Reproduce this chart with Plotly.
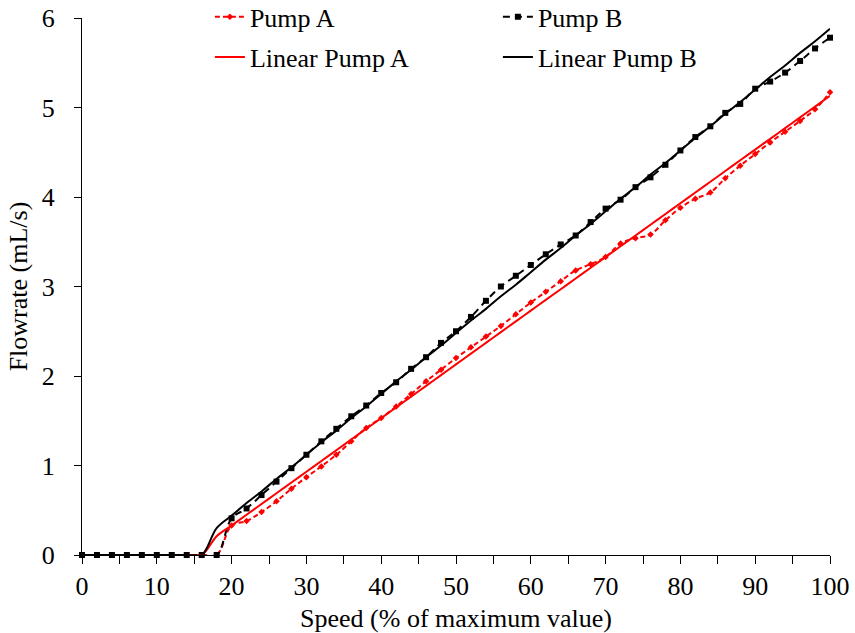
import plotly.graph_objects as go

# Speed (% of maximum value)
speed = [0, 2, 4, 6, 8, 10, 12, 14, 16, 18, 20, 22, 24, 26, 28, 30, 32, 34, 36, 38,
         40, 42, 44, 46, 48, 50, 52, 54, 56, 58, 60, 62, 64, 66, 68, 70, 72, 74, 76, 78,
         80, 82, 84, 86, 88, 90, 92, 94, 96, 98, 100]

pump_a = [0, 0, 0, 0, 0, 0, 0, 0, 0, 0, 0.33, 0.38, 0.48, 0.60, 0.74, 0.87, 0.99, 1.12, 1.27, 1.42,
          1.53, 1.66, 1.80, 1.94, 2.07, 2.20, 2.32, 2.44, 2.56, 2.69, 2.82, 2.94, 3.06, 3.18, 3.25, 3.33,
          3.48, 3.54, 3.58, 3.74, 3.88, 3.98, 4.05, 4.21, 4.35, 4.48, 4.61, 4.73, 4.85, 4.98, 5.17]

pump_b = [0, 0, 0, 0, 0, 0, 0, 0, 0, 0, 0.41, 0.52, 0.67, 0.82, 0.97, 1.12, 1.27, 1.41, 1.55, 1.67,
          1.81, 1.93, 2.08, 2.21, 2.37, 2.50, 2.66, 2.84, 3.00, 3.12, 3.24, 3.36, 3.47, 3.57, 3.72, 3.87,
          3.97, 4.11, 4.22, 4.36, 4.52, 4.67, 4.79, 4.94, 5.04, 5.21, 5.29, 5.39, 5.52, 5.66, 5.78]

linear_a = [0, 0, 0, 0, 0, 0, 0, 0, 0, 0.21, 0.33, 0.45, 0.57, 0.69, 0.81, 0.93, 1.05, 1.17, 1.29, 1.41,
            1.53, 1.65, 1.77, 1.89, 2.01, 2.13, 2.25, 2.37, 2.49, 2.61, 2.73, 2.85, 2.97, 3.09, 3.21, 3.33,
            3.45, 3.57, 3.69, 3.81, 3.93, 4.05, 4.17, 4.29, 4.41, 4.53, 4.65, 4.77, 4.89, 5.01, 5.13]

linear_b = [0, 0, 0, 0, 0, 0, 0, 0, 0, 0.30, 0.44, 0.58, 0.71, 0.85, 0.98, 1.12, 1.26, 1.39, 1.53, 1.66,
            1.80, 1.94, 2.07, 2.21, 2.34, 2.48, 2.62, 2.75, 2.89, 3.02, 3.16, 3.30, 3.43, 3.57, 3.70, 3.84,
            3.98, 4.11, 4.25, 4.38, 4.52, 4.66, 4.79, 4.93, 5.06, 5.20, 5.34, 5.47, 5.61, 5.74, 5.88]

FONT = "Times New Roman"
FS = 26
TXT = dict(family=FONT, size=FS)

fig = go.Figure()
fig.add_trace(go.Scatter(x=speed, y=pump_a, name="Pump A", mode="lines+markers",
                         line=dict(color="#ff0000", width=2, dash="5px,3px", shape="spline"),
                         marker=dict(symbol="diamond", size=5, color="#ff0000"),
                         cliponaxis=False, legend="legend"))
fig.add_trace(go.Scatter(x=speed, y=pump_b, name="Pump B", mode="lines+markers",
                         line=dict(color="#000000", width=2, dash="7px,5px", shape="spline"),
                         marker=dict(symbol="square", size=6, color="#000000"),
                         cliponaxis=False, legend="legend"))
fig.add_trace(go.Scatter(x=speed, y=linear_a, name="Linear Pump A", mode="lines",
                         line=dict(color="#ff0000", width=2, shape="spline"),
                         cliponaxis=False, legend="legend2"))
fig.add_trace(go.Scatter(x=speed, y=linear_b, name="Linear Pump B", mode="lines",
                         line=dict(color="#000000", width=2, shape="spline"),
                         cliponaxis=False, legend="legend2"))

leg_common = dict(orientation="h", xanchor="left", yanchor="middle", x=0.171,
                  font=TXT, bgcolor="rgba(0,0,0,0)",
                  entrywidth=243, entrywidthmode="pixels")

fig.update_layout(
    template="simple_white",
    width=855, height=633,
    margin=dict(l=82, r=25, t=18, b=78, autoexpand=False),
    font=dict(family=FONT, size=FS, color="black"),
    showlegend=True,
    legend=dict(**leg_common, y=1.002),
    legend2=dict(**leg_common, y=0.927),
    xaxis=dict(range=[0, 100], dtick=10, tick0=0, ticks="outside", ticklen=8, tickcolor="black",
               minor=dict(dtick=5, ticks="outside", ticklen=8, tickcolor="black"),
               showline=True, linecolor="black", linewidth=1, showgrid=False, zeroline=False,
               tickfont=TXT,
               title=dict(text="Speed (% of maximum value)", standoff=10, font=TXT)),
    yaxis=dict(range=[0, 6], dtick=1, tick0=0, ticks="outside", ticklen=7, tickcolor="black",
               showline=True, linecolor="black", linewidth=1, showgrid=False, zeroline=False,
               ticklabelstandoff=14,
               tickfont=TXT,
               title=dict(text="Flowrate (mL/s)", standoff=6, font=TXT)),
)

fig.write_html("out.html")
